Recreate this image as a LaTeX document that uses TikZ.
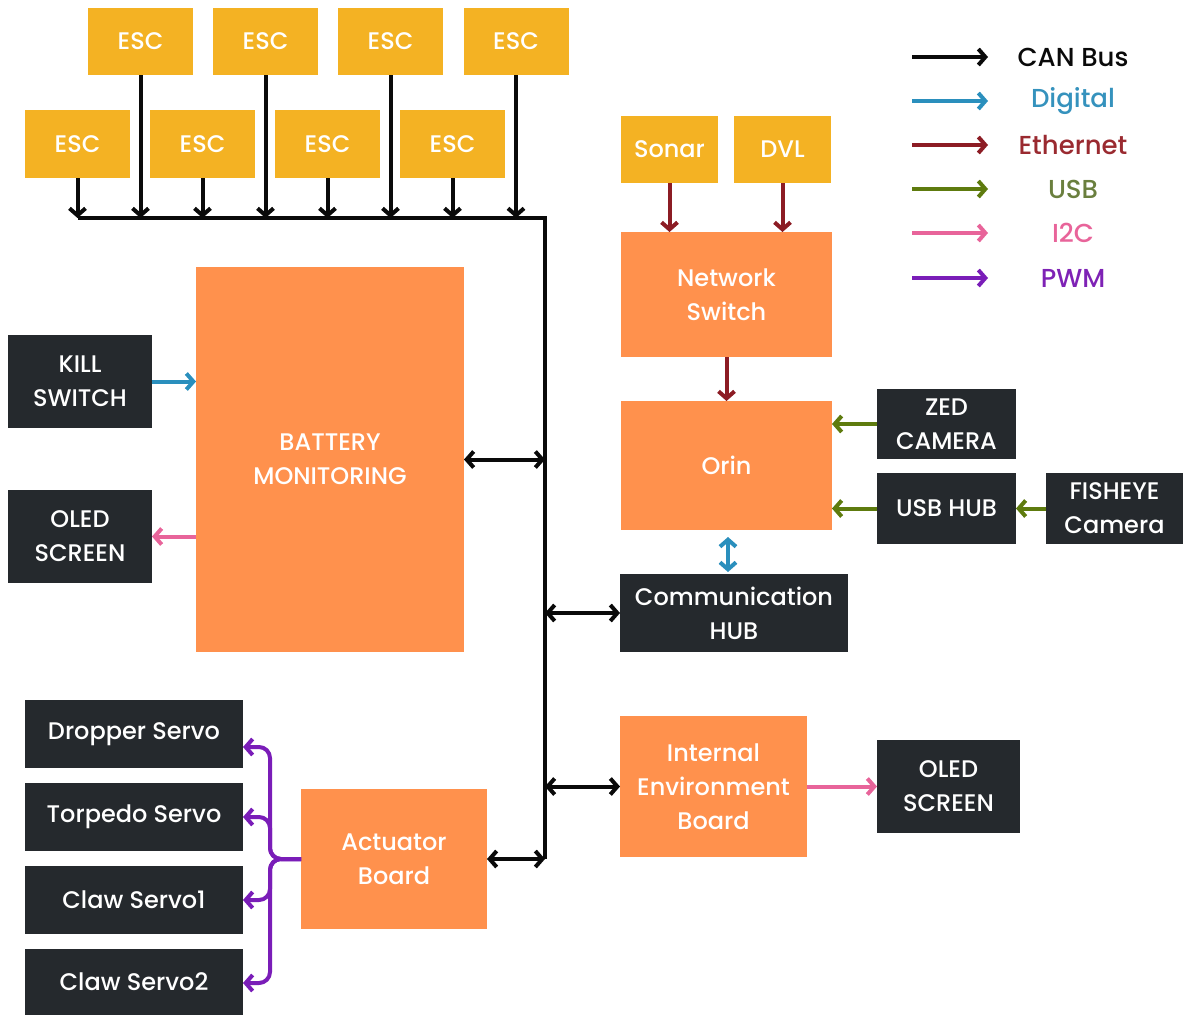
\documentclass[tikz,border=0pt]{standalone}
\usepackage{fontspec}
\setmainfont{Poppins}[UprightFont={* Medium}]
\usetikzlibrary{arrows.meta}

\definecolor{escY}{HTML}{F4B223}
\definecolor{orangeB}{HTML}{FF914D}
\definecolor{darkB}{HTML}{25292D}
\definecolor{canC}{HTML}{0A0A0A}
\definecolor{digC}{HTML}{2A8FBD}
\definecolor{ethC}{HTML}{8C1C24}
\definecolor{usbC}{HTML}{5E7B0E}
\definecolor{i2cC}{HTML}{E8649A}
\definecolor{pwmC}{HTML}{7A1DB8}
\definecolor{usbT}{HTML}{6A7F3E}
\definecolor{digT}{HTML}{3592BD}
\definecolor{ethT}{HTML}{9A2A30}
\definecolor{pwmT}{HTML}{7E22B5}

\tikzset{
  box/.style={inner sep=0pt, outer sep=0pt, text=white, align=center,
    font=\fontsize{24}{34}\selectfont},
  escbox/.style={box, fill=escY, minimum width=105, minimum height=67},
  orbox/.style={box, fill=orangeB},
  dkbox/.style={box, fill=darkB},
  link/.style={line width=4pt, line join=round, arrows={-Straight Barb[length=7pt,width=16pt]}},
  dlink/.style={link, arrows={Straight Barb[length=7pt,width=16pt]-Straight Barb[length=7pt,width=16pt]}},
  can/.style={draw=canC},
  dig/.style={draw=digC},
  eth/.style={draw=ethC},
  usb/.style={draw=usbC},
  itc/.style={draw=i2cC},
  pwm/.style={draw=pwmC},
  legtext/.style={font=\fontsize{26}{30}\selectfont, anchor=center}
}

\begin{document}
\begin{tikzpicture}[x=1pt,y=-1pt]
\useasboundingbox (0,0) rectangle (1183,1015);

% ESC units, two staggered rows
\node[escbox] (et1) at (140.5,41.5) {ESC};
\node[escbox] (et2) at (265.5,41.5) {ESC};
\node[escbox] (et3) at (390.5,41.5) {ESC};
\node[escbox] (et4) at (516,41.5) {ESC};
\node[escbox, minimum height=68] (eb1) at (77.5,144) {ESC};
\node[escbox, minimum height=68] (eb2) at (202.5,144) {ESC};
\node[escbox, minimum height=68] (eb3) at (327.5,144) {ESC};
\node[escbox, minimum height=68] (eb4) at (452.5,144) {ESC};

% sensors and computers
\node[escbox, minimum width=97] (sonar) at (669.5,149.5) {Sonar};
\node[escbox, minimum width=97] (dvl) at (782.5,149.5) {DVL};
\node[orbox, minimum width=211, minimum height=125] (netsw) at (726.5,294.5) {Network\\Switch};
\node[orbox, minimum width=211, minimum height=129] (orin) at (726.5,465.5) {Orin};
\node[dkbox, minimum width=139, minimum height=70] (zed) at (946.5,424) {ZED\\CAMERA};
\node[dkbox, minimum width=139, minimum height=71] (usbhub) at (946.5,508.5) {USB HUB};
\node[dkbox, minimum width=137, minimum height=71] (fish) at (1114.5,508.5) {FISHEYE\\Camera};
\node[dkbox, minimum width=228, minimum height=78] (comm) at (734,613) {Communication\\HUB};

% power and displays
\node[orbox, minimum width=268, minimum height=385] (batt) at (330,459.5) {BATTERY\\MONITORING};
\node[dkbox, minimum width=144, minimum height=93] (kill) at (80,381.5) {KILL\\SWITCH};
\node[dkbox, minimum width=144, minimum height=93] (oledl) at (80,536.5) {OLED\\SCREEN};
\node[orbox, minimum width=187, minimum height=141] (ieb) at (713.5,786.5) {Internal\\Environment\\Board};
\node[dkbox, minimum width=143, minimum height=93] (oledr) at (948.5,786.5) {OLED\\SCREEN};

% actuators
\node[orbox, minimum width=186, minimum height=140] (act) at (394,859) {Actuator\\Board};
\node[dkbox, minimum width=218, minimum height=68] (drop) at (134,734) {Dropper Servo};
\node[dkbox, minimum width=218, minimum height=68] (torp) at (134,817) {Torpedo Servo};
\node[dkbox, minimum width=218, minimum height=68] (claw1) at (134,900) {Claw Servo1};
\node[dkbox, minimum width=218, minimum height=66] (claw2) at (134,982) {Claw Servo2};

% CAN bus backbone
\coordinate (busl) at (78,218);
\coordinate (busc) at (545,218);
\coordinate (busb) at (545,859);
\draw[can, line width=4pt, line join=miter] (busl) -- (busc) -- (busb);
\foreach \e in {et1,et2,et3,et4,eb1,eb2,eb3,eb4}
  \draw[can, link] (\e.south) -- (\e.south |- busl);

\draw[can, dlink] (batt.east) -- (batt.east -| busc);
\draw[can, dlink] (comm.west -| busc) -- (comm.west);
\draw[can, dlink] (ieb.west -| busc) -- (ieb.west);
\draw[can, dlink] (act.east) -- (act.east -| busc);

% Ethernet
\draw[eth, link] (sonar.south) -- (sonar.south |- netsw.north);
\draw[eth, link] (dvl.south) -- (dvl.south |- netsw.north);
\draw[eth, link] (netsw.south) -- (orin.north);

% USB
\draw[usb, link] (zed.west) -- (zed.west -| orin.east);
\draw[usb, link] (usbhub.west) -- (usbhub.west -| orin.east);
\draw[usb, link] (fish.west) -- (usbhub.east);

% Digital
\coordinate (dtop) at (728,537);
\coordinate (dbot) at (728,572);
\draw[dig, dlink] (dtop) -- (dbot);
\draw[dig, link] (kill.east) -- (kill.east -| batt.west);

% I2C
\draw[itc, link] (oledl.east -| batt.west) -- (oledl.east);
\draw[itc, link] (ieb.east) -- (ieb.east -| oledr.west);

% PWM fan-out
\coordinate (trunk) at (270,859);
\foreach \s/\yy in {drop/747,torp/817,claw1/900,claw2/983}
  \draw[pwm, link, rounded corners=11pt] (act.west) -- (trunk) -- (270,\yy) -- (\s.east |- 0,\yy);

% legend
\foreach \i/\c/\t/\tc/\yy in {1/canC/CAN Bus/canC/57, 2/digC/Digital/digT/101, 3/ethC/Ethernet/ethT/145, 4/usbC/USB/usbT/189, 5/i2cC/I2C/i2cC/233, 6/pwmC/PWM/pwmT/278}{
  \coordinate (ls\i) at (912,\yy);
  \coordinate (le\i) at (988,\yy);
  \draw[draw=\c, link] (ls\i) -- (le\i);
  \node[legtext, text=\tc] (lt\i) at (1073,\yy) {\t};
}
\end{tikzpicture}
\end{document}
